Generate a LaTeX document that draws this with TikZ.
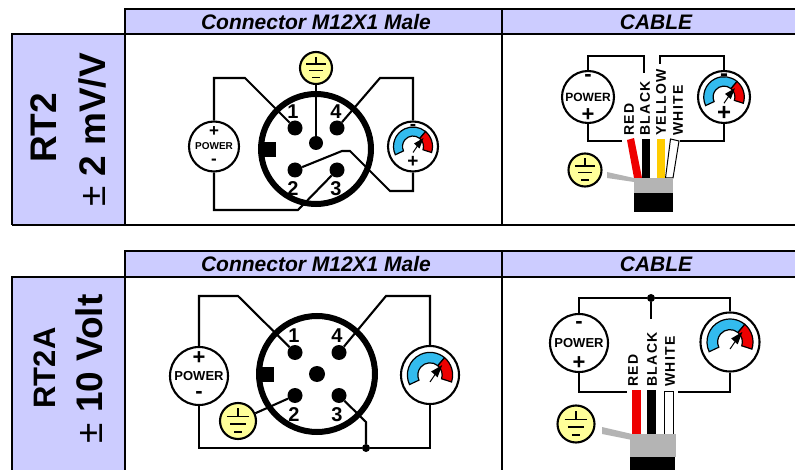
\documentclass[tikz,border=0pt]{standalone}
\usepackage{fontspec}
\setmainfont{Liberation Sans}
\newfontfamily\wirefont[LetterSpace=10]{Liberation Sans}
\definecolor{headfill}{HTML}{CCCCFF}
\definecolor{gndfill}{HTML}{FFFF99}
\definecolor{dialblue}{HTML}{33BBEE}
\definecolor{dialred}{HTML}{EE0000}
\definecolor{wireyellow}{HTML}{FFCC00}
\definecolor{shield}{HTML}{B4B4B4}
\newcommand{\fsz}[1]{\fontsize{#1}{#1}\selectfont}
\tikzset{
  border/.style={line width=2.2pt},
  wire/.style={line width=2.1pt},
  symb/.style={circle,draw,line width=2.1pt,fill=white,inner sep=0pt},
  pin/.style={circle,fill=black,inner sep=0pt,minimum size=15pt},
  pinlabel/.style={font=\bfseries\fsz{20},inner sep=0pt},
  headtext/.style={font=\bfseries\itshape\fsz{21},inner sep=0pt},
  sidetext/.style={font=\bfseries\fsz{37},inner sep=0pt,rotate=90},
  wiretext/.style={font=\wirefont\bfseries\fsz{14},inner sep=0pt,rotate=90,anchor=west},
}
\begin{document}
\begin{tikzpicture}[x=1pt,y=-1pt]
  \useasboundingbox (0,0) rectangle (795,470);
  % header bars and side cells
  \foreach \ytop/\ybot/\yend in {9/34/225,251/277/470}
  {
    \fill[headfill] (125,\ytop) rectangle (795,\ybot);
    \fill[headfill] (12,\ybot) rectangle (125,\yend);
    \draw[border] (795,\ytop) -- (125,\ytop) -- (125,\yend);
    \draw[border] (12,\yend) -- (12,\ybot) -- (795,\ybot);
    \draw[border] (502,\ytop) -- (502,\yend);
  }
  \draw[border] (12,225) -- (795,225);
  \node[headtext] (headA) at (316,22) {Connector M12X1 Male};
  \node[headtext] (cableA) at (656,22) {CABLE};
  \node[headtext] (headB) at (316,264) {Connector M12X1 Male};
  \node[headtext] (cableB) at (656,264) {CABLE};
  \node[sidetext] (typeA) at (44,128) {RT2};
  \node[sidetext] (rangeA) at (92,130) {{\mdseries ±} 2 mV/V};
  \node[sidetext,font=\bfseries\fsz{31}] (typeB) at (45,368) {RT2A};
  \node[sidetext,font=\bfseries\fsz{37}] (rangeB) at (89,369) {{\mdseries ±} 10 Volt};

  % connector bodies and pins
  \foreach \nm/\cx/\cy/\rr/\dx/\dy/\ly in {A/316/149/55/21/21/40,B/317/374/58/22/21.5/41}
  {
    \node[circle,draw,line width=6pt,inner sep=0pt,minimum size=2*\rr pt] (body\nm) at (\cx,\cy) {};
    \fill (\cx-\rr,\cy-7) rectangle (\cx-\rr+15,\cy+8);
    \node[pin] (pin\nm1) at (\cx-\dx,\cy-\dy) {};
    \node[pin] (pin\nm4) at (\cx+\dx,\cy-\dy) {};
    \node[pin] (pin\nm2) at (\cx-\dx,\cy+\dy) {};
    \node[pin] (pin\nm3) at (\cx+\dx,\cy+\dy) {};
    \node[pinlabel] (num\nm1) at (\cx-23,\cy-\ly+3) {1};
    \node[pinlabel] (num\nm4) at (\cx+20,\cy-\ly+3) {4};
    \node[pinlabel] (num\nm2) at (\cx-23,\cy+\ly) {2};
    \node[pinlabel] (num\nm3) at (\cx+20,\cy+\ly) {3};
  }
  \node[pin,minimum size=14pt] (pinA0) at (316,143) {};
  \node[pin,minimum size=16pt] (pinB0) at (317,374) {};

  % power symbols
  \foreach \nm/\cx/\cy/\rr/\fs/\sg/\up/\dn/\uy/\dy in {A/214/146.5/25/10/17/+/-/15/15,B/588/97/26/12/22/-/+/19/18,C/199/376/29/13/22/+/-/18/19,D/579/343/29/13/22/-/+/18/20}
  {
    \node[symb,minimum size=2*\rr pt,font=\bfseries\fsz{\fs}] (power\nm) at (\cx,\cy) {POWER};
    \node[font=\bfseries\fsz{\sg},inner sep=0pt] (power\nm up) at (\cx,\cy-\uy) {\up};
    \node[font=\bfseries\fsz{\sg},inner sep=0pt] (power\nm dn) at (\cx,\cy+\dy) {\dn};
  }

  % gauges
  \foreach \nm/\cx/\cy/\rr in {A/413/146.5/25,B/724/97/26,C/430/375/29,D/730/342/29.5}
  {
    \node[symb,minimum size=2*\rr pt] (gauge\nm) at (\cx,\cy) {};
    \begin{scope}[shift={(gauge\nm.center)},scale=\rr]
      \filldraw[fill=dialblue,line width=1.2pt] (155:.78) arc (155:310:.78) -- (310:.42) arc (310:155:.42) -- cycle;
      \filldraw[fill=dialred,line width=1.2pt] (310:.78) arc (310:378:.78) -- (378:.42) arc (378:310:.42) -- cycle;
      \draw[line width=1pt] (0,.24) -- (.3,-.2);
      \fill (.42,-.34) -- (.04,-.12) -- (.26,.08) -- cycle;
    \end{scope}
  }
  \foreach \nm/\sg/\uy/\dy in {A/19/19.5/15.5,B/24/19/16}
  {
    \node[font=\bfseries\fsz{\sg},inner sep=0pt] (gauge\nm up) at ([yshift=\uy pt]gauge\nm.center) {-};
    \node[font=\bfseries\fsz{\sg},inner sep=0pt] (gauge\nm dn) at ([yshift=-\dy pt]gauge\nm.center) {+};
  }

  % ground symbols
  \foreach \nm/\cx/\cy/\rr in {A/316/68/16,B/585/170/16.5,C/238/421/18,D/576/424/18.5}
  {
    \node[symb,fill=gndfill,minimum size=2*\rr pt] (ground\nm) at (\cx,\cy) {};
    \begin{scope}[shift={(ground\nm.center)},scale=\rr,line width=1.7pt]
      \draw (0,-.7) -- (0,-.25) (-.62,-.25) -- (.62,-.25);
      \draw (-.42,.16) -- (.42,.16);
      \draw (-.22,.6) -- (.22,.6);
    \end{scope}
  }

  % wiring of connector RT2
  \coordinate (bendA1) at (245,78);
  \coordinate (bendA4) at (380,78);
  \coordinate (bendA2a) at (342,151);
  \coordinate (bendA2b) at (350,151);
  \coordinate (bendA2c) at (390,191);
  \coordinate (bendA3) at (298,210);
  \draw[wire] (powerA.north) |- (bendA1) -- (pinA1);
  \draw[wire] (gaugeA.north) |- (bendA4) -- (pinA4);
  \draw[wire] (pinA2) -- (bendA2a) -- (bendA2b) -- (bendA2c) -| (gaugeA.south);
  \draw[wire] (pinA3) -- (bendA3) -| (powerA.south);
  \draw[wire] (groundA) -- (pinA0);

  % wiring of connector RT2A
  \coordinate (bendB1) at (238,296);
  \coordinate (bendB4) at (386,296);
  \coordinate (bendB3) at (366,422);
  \node[circle,fill=black,inner sep=0pt,minimum size=8pt] (jointB) at (366,448) {};
  \draw[wire] (powerC.north) |- (bendB1) -- (pinB1);
  \draw[wire] (gaugeC.north) |- (bendB4) -- (pinB4);
  \draw[wire] (powerC.south) |- (jointB) -| (gaugeC.south);
  \draw[wire] (pinB3) -- (bendB3) -- (jointB);
  \draw[wire] (groundC) -- (pinB2);

  % cable of RT2
  \node[wiretext] (redA) at (629,136) {RED};
  \node[wiretext] (blackA) at (645,136) {BLACK};
  \node[wiretext] (yellowA) at (661,136) {YELLOW};
  \node[wiretext] (whiteA) at (678,136) {WHITE};
  \coordinate (topA1) at (644,56);
  \coordinate (endA0) at (644,73);
  \coordinate (topA2) at (660,56);
  \coordinate (endA3) at (660,64);
  \coordinate (endA1) at (622,141);
  \coordinate (endA2) at (680,141);
  \draw[wire] (powerB.north) |- (topA1) -- (endA0);
  \draw[wire] (gaugeB.north) |- (topA2) -- (endA3);
  \draw[wire] (powerB.south) |- (endA1);
  \draw[wire] (gaugeB.south) |- (endA2);
  \fill[dialred] (627,140) -- (634,138) -- (642,178) -- (634,178) -- cycle;
  \fill (642,139) rectangle (650,178);
  \fill[wireyellow] (657,139) rectangle (665,178);
  \filldraw[fill=white,line width=1pt] (670.5,139) -- (679,141) -- (673,178) -- (665.5,178) -- cycle;
  \fill[shield] (607,172) -- (634,178) -- (634,182) -- (607,178) -- cycle;
  \fill[shield] (634,178) rectangle (673,193);
  \fill (634,193) rectangle (673,212);

  % cable of RT2A
  \node[wiretext] (redB) at (633,387) {RED};
  \node[wiretext] (blackB) at (652,387) {BLACK};
  \node[wiretext] (whiteB) at (670,387) {WHITE};
  \node[circle,fill=black,inner sep=0pt,minimum size=8pt] (jointC) at (651,298) {};
  \coordinate (endB0) at (651,319);
  \coordinate (endB1) at (627,392);
  \coordinate (endB2) at (678,392);
  \draw[wire] (powerD.north) |- (jointC) -| (gaugeD.north);
  \draw[wire] (jointC) -- (endB0);
  \draw[wire] (powerD.south) |- (endB1);
  \draw[wire] (gaugeD.south) |- (endB2);
  \fill[dialred] (632,390) rectangle (641,434);
  \fill (647,390) rectangle (656,434);
  \filldraw[fill=white,line width=1pt] (664.5,391) rectangle (673,434);
  \fill[shield] (602,427) -- (632,434) -- (632,440) -- (602,434) -- cycle;
  \fill[shield] (630,434) rectangle (676,457);
  \fill (630,457) rectangle (675,470);
\end{tikzpicture}
\end{document}
